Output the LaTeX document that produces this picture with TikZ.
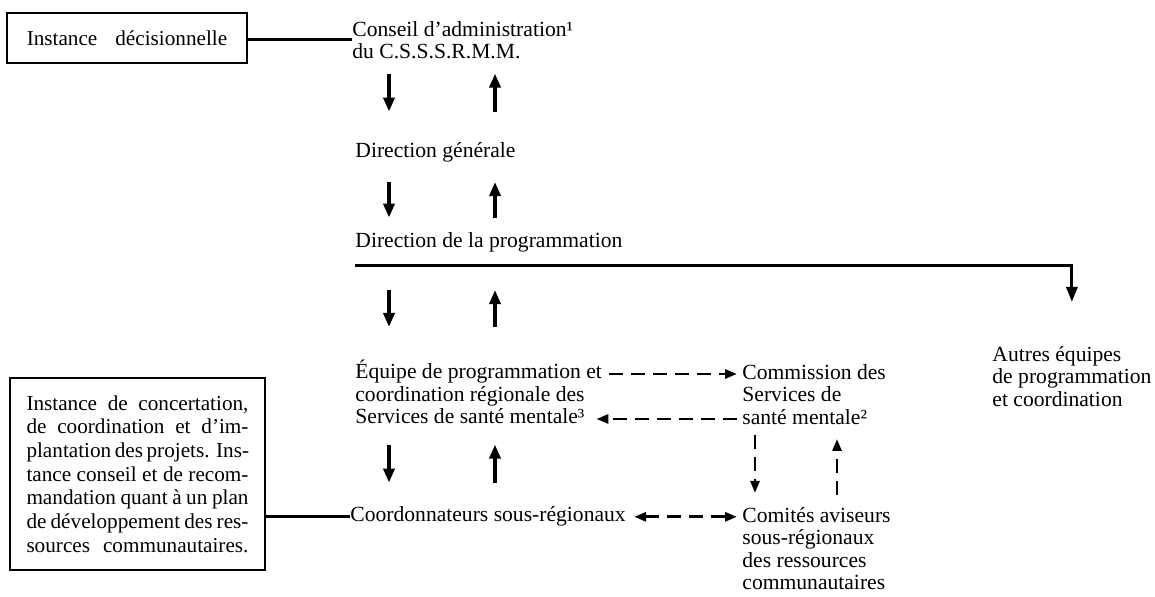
\documentclass[tikz,border=0pt]{standalone}
\usepackage{fontspec}
\setmainfont{Liberation Serif}
\usetikzlibrary{arrows.meta,positioning}

\newcommand{\boxline}[1]{\hbox to 111pt{#1}}

\begin{document}
\begin{tikzpicture}[x=0.5pt, y=-0.5pt,
    txt/.style={inner sep=0pt, align=left, font=\fontsize{10.8}{11.25}\selectfont},
    frame/.style={draw, line width=1pt, inner sep=0pt, font=\fontsize{10.6}{11.85}\selectfont},
    link/.style={line width=1.5pt},
    arr/.style={-{Triangle[length=7pt,width=5.5pt]}, line width=1.8pt},
    dasharr/.style={-{Triangle[length=6pt,width=4.5pt]}, line width=1.4pt,
                    dash pattern=on 7pt off 4pt},
  ]
  \useasboundingbox (0,0) rectangle (1155,597);

  % Boxes on the left
  \node[frame, minimum width=120pt, minimum height=25pt] (inst) at (127,38)
    {Instance\hspace{9pt}décisionnelle};
  \node[frame, minimum width=127.5pt, minimum height=96pt, align=left] (leftbox) at (137.5,474)
    {\boxline{Instance de concertation,}\\
     \boxline{de coordination et d’im-}\\
     \boxline{plantation des projets. Ins-}\\
     \boxline{tance conseil et de recom-}\\
     \boxline{mandation quant à un plan}\\
     \boxline{de développement des res-}\\
     \boxline{sources communautaires.}};

  % Main column
  \node[txt, anchor=north west] (conseil) at (352,21) {Conseil d’administration¹\\du C.S.S.S.R.M.M.};
  \node[txt, anchor=base west] (dirgen) at (355,158) {Direction générale};
  \node[txt, anchor=base west] (dirprog) at (355,248) {Direction de la programmation};
  \node[txt, anchor=north west] (equipe) at (355,360)
    {Équipe de programmation et\\coordination régionale des\\Services de santé mentale³};
  \node[txt, anchor=base west] (coord) at (350,522) {Coordonnateurs sous-régionaux};

  % Right column
  \node[txt, anchor=north west] (commission) at (742,364) {Commission des\\Services de\\santé mentale²};
  \node[txt, anchor=north west] (comites) at (742,507)
    {Comités aviseurs\\sous-régionaux\\des ressources\\communautaires};
  \node[txt, anchor=north west] (autres) at (992,346)
    {Autres équipes\\de programmation\\et coordination};

  % Arrow columns
  \coordinate (dn) at (389,0);
  \coordinate (up) at (495,0);
  \coordinate (cdn) at (755,0);
  \coordinate (cup) at (837,0);

  % Links to the boxes
  \draw[link] ([yshift=-1pt]inst.east) -- ([yshift=-1pt]inst.east -| conseil.west);
  \draw[link] (leftbox.east |- coord.west) -- (coord.west);

  % Down and up arrows
  \draw[arr, shorten <=7pt, shorten >=15.5pt] (conseil.south -| dn) -- (dirgen.north -| dn);
  \draw[arr, shorten <=15.5pt, shorten >=7pt] (dirgen.north -| up) -- (conseil.south -| up);
  \draw[arr, shorten <=9.5pt, shorten >=7.5pt] (dirgen.south -| dn) -- (dirprog.north -| dn);
  \draw[arr, shorten <=7.5pt, shorten >=9.5pt] (dirprog.north -| up) -- (dirgen.south -| up);
  \draw[arr, shorten <=18.5pt, shorten >=16.5pt] (dirprog.south -| dn) -- (equipe.north -| dn);
  \draw[arr, shorten <=16.5pt, shorten >=18.5pt] (equipe.north -| up) -- (dirprog.south -| up);
  \draw[arr, shorten <=10pt, shorten >=12pt] (equipe.south -| dn) -- (coord.north -| dn);
  \draw[arr, shorten <=12pt, shorten >=10pt] (coord.north -| up) -- (equipe.south -| up);

  % Line to the other teams
  \draw[link, -{Triangle[length=7.5pt,width=5.5pt]}] ([yshift=-6pt]dirprog.south west) -| ([yshift=22pt]autres.north);

  % Dashed exchanges
  \draw[dasharr, shorten <=3.5pt, shorten >=2.5pt] ([yshift=-7pt]equipe.north east) -- ([yshift=-7pt]equipe.north east -| commission.west);
  \draw[dasharr, shorten <=2.5pt, shorten >=-3pt] ([yshift=-29.5pt]equipe.north east -| commission.west) -- ([yshift=-29.5pt]equipe.north east);
  \draw[dasharr, {Triangle[length=6pt,width=4.5pt]}-{Triangle[length=6pt,width=4.5pt]},
        shorten <=4pt, shorten >=2.5pt] (coord.east) -- (coord.east -| comites.west);
  \draw[dasharr, shorten <=5pt, shorten >=7pt] (commission.south -| cdn) -- (comites.north -| cdn);
  \draw[dasharr, shorten <=6pt, shorten >=7pt] (comites.north -| cup) -- (commission.south -| cup);
\end{tikzpicture}
\end{document}
